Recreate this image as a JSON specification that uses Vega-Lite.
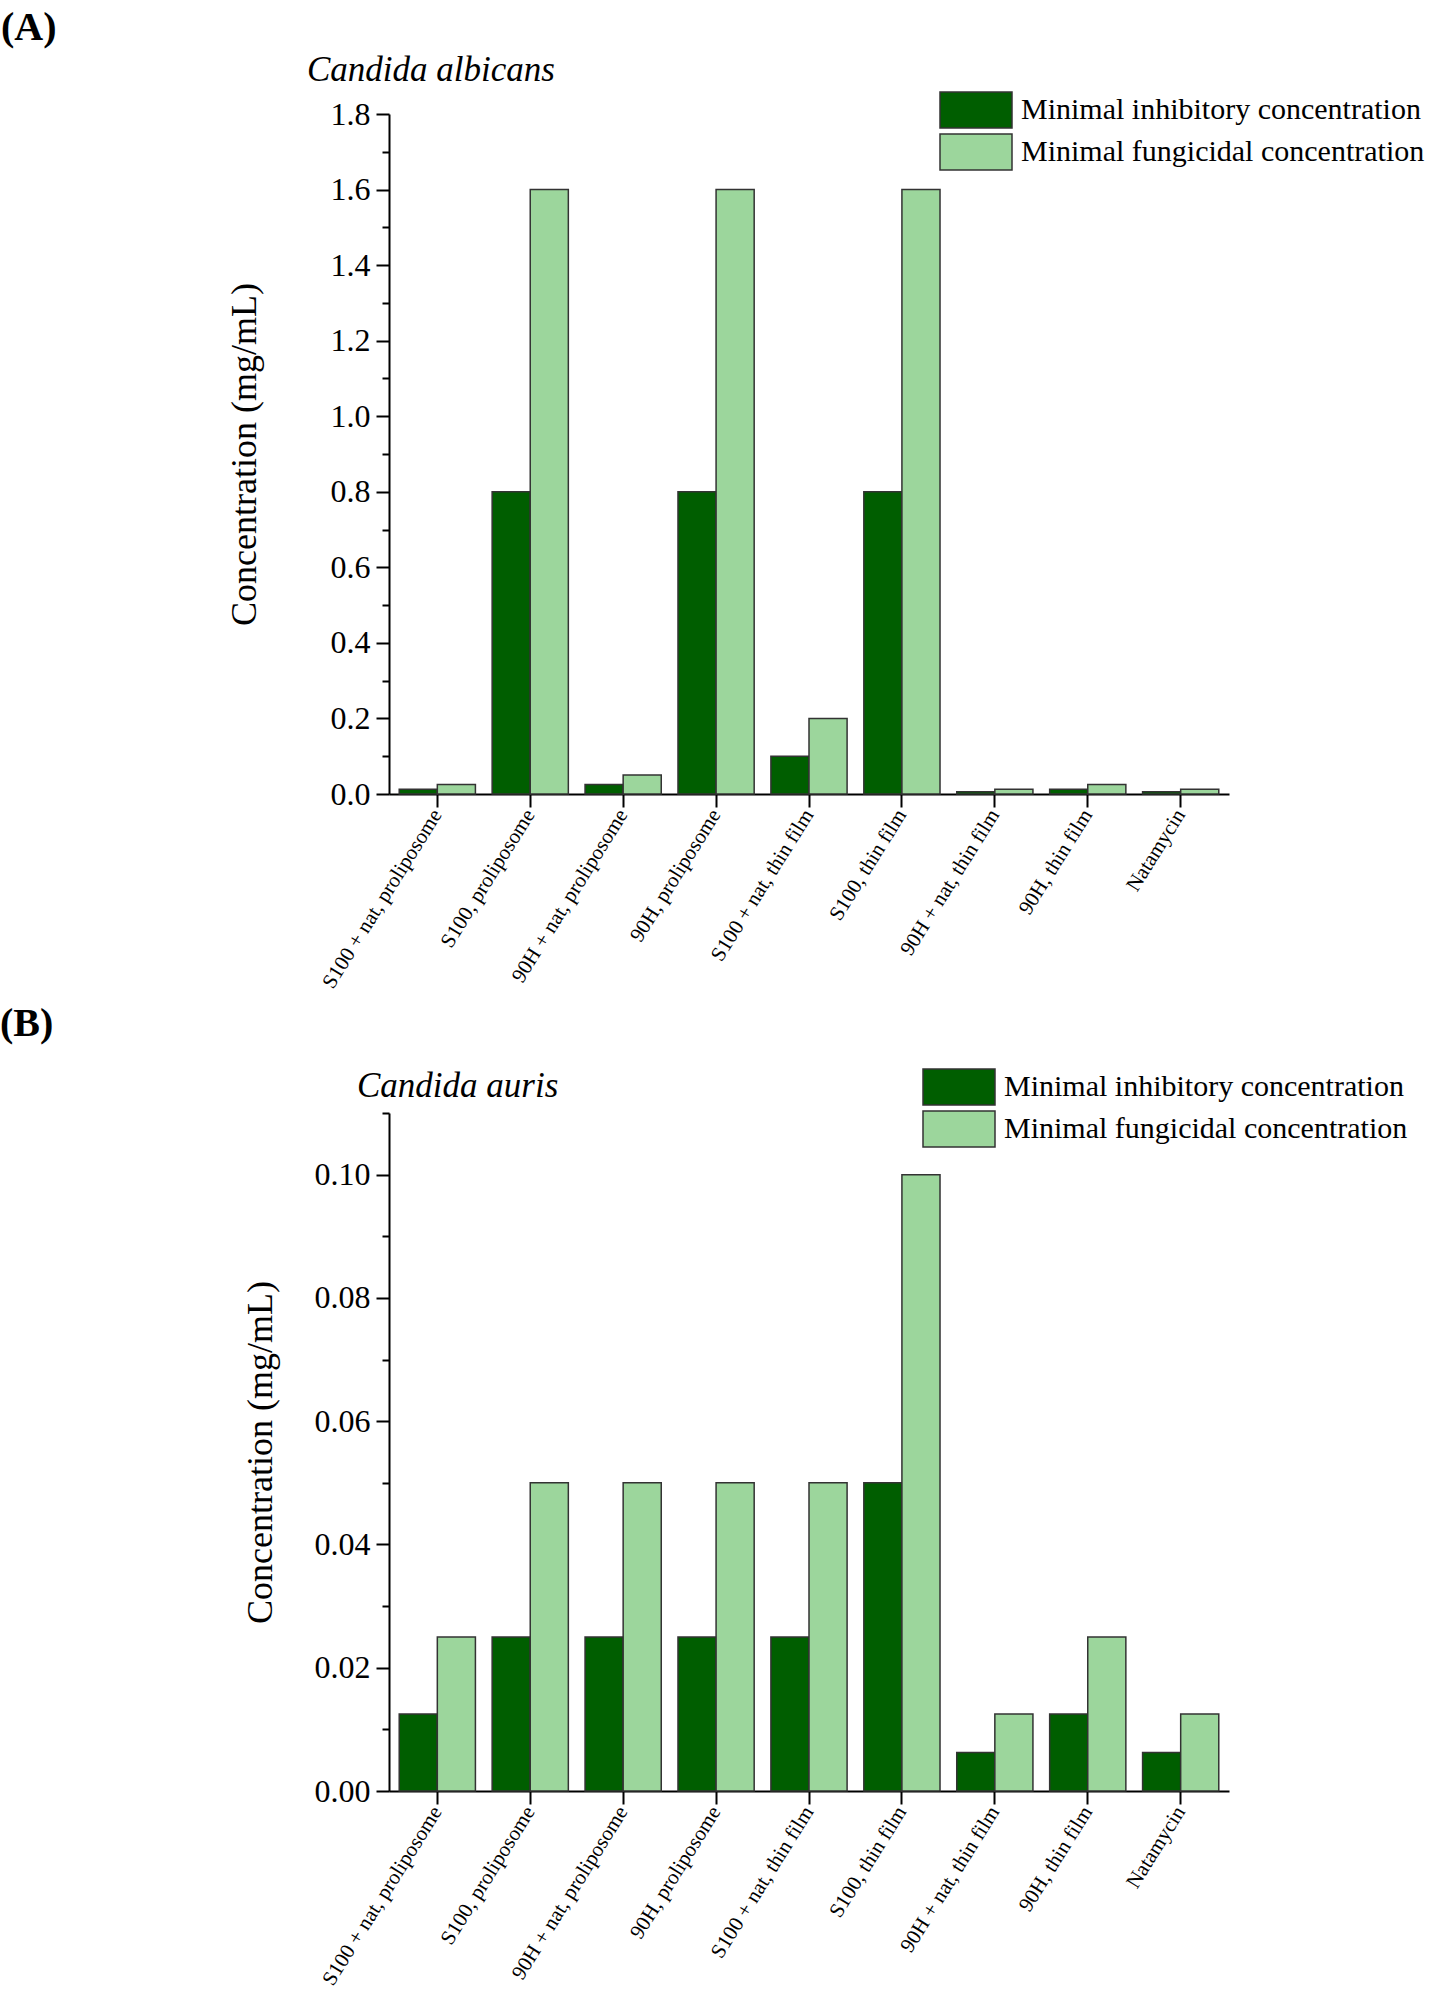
{
  "$schema": "https://vega.github.io/schema/vega-lite/v6.json",
  "background": "white",
  "padding": {"left": 0, "top": 8, "right": 0, "bottom": 0},
  "config": {
    "font": "Liberation Serif",
    "view": {"stroke": null},
    "axis": {
      "labelFont": "Liberation Serif",
      "titleFont": "Liberation Serif",
      "labelColor": "black",
      "titleColor": "black",
      "domainColor": "black",
      "tickColor": "black",
      "domainWidth": 2,
      "tickWidth": 2,
      "grid": false
    },
    "legend": {"labelFont": "Liberation Serif", "labelColor": "black"},
    "title": {"font": "Liberation Serif", "color": "black"}
  },
  "datasets": {
    "albicans": [
      {"formulation": "S100 + nat, proliposome", "measure": "Minimal inhibitory concentration", "value": 0.0125},
      {"formulation": "S100 + nat, proliposome", "measure": "Minimal fungicidal concentration", "value": 0.025},
      {"formulation": "S100, proliposome", "measure": "Minimal inhibitory concentration", "value": 0.8},
      {"formulation": "S100, proliposome", "measure": "Minimal fungicidal concentration", "value": 1.6},
      {"formulation": "90H + nat, proliposome", "measure": "Minimal inhibitory concentration", "value": 0.025},
      {"formulation": "90H + nat, proliposome", "measure": "Minimal fungicidal concentration", "value": 0.05},
      {"formulation": "90H, proliposome", "measure": "Minimal inhibitory concentration", "value": 0.8},
      {"formulation": "90H, proliposome", "measure": "Minimal fungicidal concentration", "value": 1.6},
      {"formulation": "S100 + nat, thin film", "measure": "Minimal inhibitory concentration", "value": 0.1},
      {"formulation": "S100 + nat, thin film", "measure": "Minimal fungicidal concentration", "value": 0.2},
      {"formulation": "S100, thin film", "measure": "Minimal inhibitory concentration", "value": 0.8},
      {"formulation": "S100, thin film", "measure": "Minimal fungicidal concentration", "value": 1.6},
      {"formulation": "90H + nat, thin film", "measure": "Minimal inhibitory concentration", "value": 0.00625},
      {"formulation": "90H + nat, thin film", "measure": "Minimal fungicidal concentration", "value": 0.0125},
      {"formulation": "90H, thin film", "measure": "Minimal inhibitory concentration", "value": 0.0125},
      {"formulation": "90H, thin film", "measure": "Minimal fungicidal concentration", "value": 0.025},
      {"formulation": "Natamycin", "measure": "Minimal inhibitory concentration", "value": 0.00625},
      {"formulation": "Natamycin", "measure": "Minimal fungicidal concentration", "value": 0.0125}
    ],
    "auris": [
      {"formulation": "S100 + nat, proliposome", "measure": "Minimal inhibitory concentration", "value": 0.0125},
      {"formulation": "S100 + nat, proliposome", "measure": "Minimal fungicidal concentration", "value": 0.025},
      {"formulation": "S100, proliposome", "measure": "Minimal inhibitory concentration", "value": 0.025},
      {"formulation": "S100, proliposome", "measure": "Minimal fungicidal concentration", "value": 0.05},
      {"formulation": "90H + nat, proliposome", "measure": "Minimal inhibitory concentration", "value": 0.025},
      {"formulation": "90H + nat, proliposome", "measure": "Minimal fungicidal concentration", "value": 0.05},
      {"formulation": "90H, proliposome", "measure": "Minimal inhibitory concentration", "value": 0.025},
      {"formulation": "90H, proliposome", "measure": "Minimal fungicidal concentration", "value": 0.05},
      {"formulation": "S100 + nat, thin film", "measure": "Minimal inhibitory concentration", "value": 0.025},
      {"formulation": "S100 + nat, thin film", "measure": "Minimal fungicidal concentration", "value": 0.05},
      {"formulation": "S100, thin film", "measure": "Minimal inhibitory concentration", "value": 0.05},
      {"formulation": "S100, thin film", "measure": "Minimal fungicidal concentration", "value": 0.1},
      {"formulation": "90H + nat, thin film", "measure": "Minimal inhibitory concentration", "value": 0.00625},
      {"formulation": "90H + nat, thin film", "measure": "Minimal fungicidal concentration", "value": 0.0125},
      {"formulation": "90H, thin film", "measure": "Minimal inhibitory concentration", "value": 0.0125},
      {"formulation": "90H, thin film", "measure": "Minimal fungicidal concentration", "value": 0.025},
      {"formulation": "Natamycin", "measure": "Minimal inhibitory concentration", "value": 0.00625},
      {"formulation": "Natamycin", "measure": "Minimal fungicidal concentration", "value": 0.0125}
    ]
  },
  "columns": 1,
  "spacing": 12,
  "resolve": {"legend": {"color": "independent"}},
  "concat": [
    {
      "title": {"text": "(A)", "anchor": "start", "fontSize": 40, "fontWeight": "bold", "dx": -225, "offset": 5},
      "vconcat": [
        {
          "data": {"name": "albicans"},
          "title": {"text": "Candida albicans", "fontStyle": "italic", "fontWeight": "normal", "fontSize": 35, "anchor": "start", "frame": "group", "dx": -82, "offset": 10},
          "width": 840,
          "height": 680,
          "mark": {"type": "bar", "stroke": "#333333", "strokeWidth": 1.5},
          "encoding": {
            "x": {
              "field": "formulation", "type": "nominal", "sort": null,
              "scale": {"paddingInner": 0.18, "paddingOuter": 0.11},
              "axis": {"title": null, "labelAngle": -58, "labelAlign": "right", "labelBaseline": "middle", "labelFontSize": 21, "labelLimit": 400, "tickSize": 13, "labelPadding": 4}
            },
            "xOffset": {"field": "measure", "sort": ["Minimal inhibitory concentration", "Minimal fungicidal concentration"]},
            "y": {
              "field": "value", "type": "quantitative",
              "scale": {"domain": [0, 1.8], "nice": false},
              "axis": {
                "title": "Concentration (mg/mL)", "titleFontSize": 36, "titleFontWeight": "normal", "titlePadding": 67,
                "values": [0, 0.1, 0.2, 0.3, 0.4, 0.5, 0.6, 0.7, 0.8, 0.9, 1.0, 1.1, 1.2, 1.3, 1.4, 1.5, 1.6, 1.7, 1.8],
                "labelExpr": "round(datum.value * 10) % 2 == 1 ? '' : format(datum.value, '.1f')",
                "tickSize": {"condition": {"test": "round(datum.value * 10) % 2 == 1", "value": 7}, "value": 13},
                "labelFontSize": 32, "labelPadding": 6
              }
            },
            "color": {
              "field": "measure", "type": "nominal",
              "scale": {"domain": ["Minimal inhibitory concentration", "Minimal fungicidal concentration"], "range": ["#005e00", "#9cd69c"]},
              "legend": {
                "title": null, "orient": "none", "legendX": 568, "legendY": -23,
                "symbolType": "M-2,-1H2V1H-2Z", "symbolSize": 1296, "symbolStrokeColor": "#333333", "symbolStrokeWidth": 1.5,
                "labelFontSize": 30, "labelOffset": 26, "rowPadding": 0, "labelLimit": 0
              }
            }
          }
        }
      ]
    },
    {
      "title": {"text": "(B)", "anchor": "start", "fontSize": 40, "fontWeight": "bold", "dx": -242, "offset": 24},
      "vconcat": [
        {
          "data": {"name": "auris"},
          "title": {"text": "Candida auris", "fontStyle": "italic", "fontWeight": "normal", "fontSize": 35, "anchor": "start", "frame": "group", "dx": -32, "offset": 8},
          "width": 840,
          "height": 678,
          "mark": {"type": "bar", "stroke": "#333333", "strokeWidth": 1.5},
          "encoding": {
            "x": {
              "field": "formulation", "type": "nominal", "sort": null,
              "scale": {"paddingInner": 0.18, "paddingOuter": 0.11},
              "axis": {"title": null, "labelAngle": -58, "labelAlign": "right", "labelBaseline": "middle", "labelFontSize": 21, "labelLimit": 400, "tickSize": 13, "labelPadding": 4}
            },
            "xOffset": {"field": "measure", "sort": ["Minimal inhibitory concentration", "Minimal fungicidal concentration"]},
            "y": {
              "field": "value", "type": "quantitative",
              "scale": {"domain": [0, 0.11], "nice": false},
              "axis": {
                "title": "Concentration (mg/mL)", "titleFontSize": 36, "titleFontWeight": "normal", "titlePadding": 35,
                "values": [0, 0.01, 0.02, 0.03, 0.04, 0.05, 0.06, 0.07, 0.08, 0.09, 0.1, 0.11],
                "labelExpr": "round(datum.value * 100) % 2 == 1 ? '' : format(datum.value, '.2f')",
                "tickSize": {"condition": {"test": "round(datum.value * 100) % 2 == 1", "value": 7}, "value": 13},
                "labelFontSize": 32, "labelPadding": 6
              }
            },
            "color": {
              "field": "measure", "type": "nominal",
              "scale": {"domain": ["Minimal inhibitory concentration", "Minimal fungicidal concentration"], "range": ["#005e00", "#9cd69c"]},
              "legend": {
                "title": null, "orient": "none", "legendX": 551, "legendY": -45,
                "symbolType": "M-2,-1H2V1H-2Z", "symbolSize": 1296, "symbolStrokeColor": "#333333", "symbolStrokeWidth": 1.5,
                "labelFontSize": 30, "labelOffset": 26, "rowPadding": 0, "labelLimit": 0
              }
            }
          }
        }
      ]
    }
  ]
}
